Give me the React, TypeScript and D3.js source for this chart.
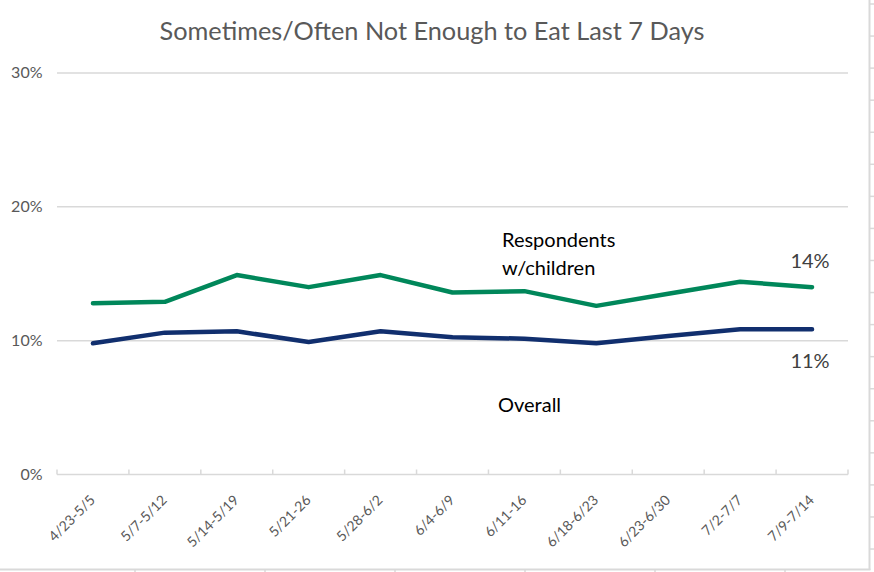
import React from "react";
import * as d3 from "d3";

const title = "Sometimes/Often Not Enough to Eat Last 7 Days";
const categories = ["4/23-5/5", "5/7-5/12", "5/14-5/19", "5/21-26", "5/28-6/2", "6/4-6/9", "6/11-16", "6/18-6/23", "6/23-6/30", "7/2-7/7", "7/9-7/14"];
const childrenValues = [12.8, 12.9, 14.9, 14.0, 14.9, 13.6, 13.7, 12.6, 13.5, 14.4, 14.0];
const overallValues = [9.8, 10.6, 10.7, 9.9, 10.7, 10.25, 10.15, 9.8, 10.35, 10.85, 10.85];
const yTicks = [0, 10, 20, 30];
const childrenLabel = ["Respondents", "w/children"];
const overallLabel = "Overall";
const childrenEnd = "14%";
const overallEnd = "11%";

const W = 874;
const H = 572;
const FONT = "Lato, 'Open Sans', sans-serif";
const GRID = "#d9d9d9";

export default function App() {
  const x = d3.scaleBand<string>().domain(categories).range([57, 848]).padding(0);
  const y = d3.scaleLinear().domain([0, 30]).range([474.5, 73]);
  const cx = (c: string) => (x(c) as number) + x.bandwidth() / 2;

  const line = d3
    .line<number>()
    .x((_, i) => cx(categories[i]))
    .y((d) => y(d));

  const bounds = [...categories.map((c) => x(c) as number), 848];
  const rowTicks = d3.range(0, 18).map((k) => 4 + k * 32.06);
  const colTicks = [135, 265, 395, 525, 655, 785];

  return (
    <svg width={W} height={H} style={{ position: "absolute", left: 0, top: 0, background: "#fff" }} fontFamily={FONT}>
      <rect x={0} y={0} width={W} height={H} fill="#fff" />
      <line x1={869.5} x2={869.5} y1={0} y2={570} stroke={GRID} strokeWidth={2} />
      <line x1={0} x2={870.5} y1={569.5} y2={569.5} stroke={GRID} strokeWidth={2} />
      {rowTicks.map((t, i) => (
        <line key={"r" + i} x1={870} x2={874} y1={t} y2={t} stroke={GRID} strokeWidth={1.5} />
      ))}
      {colTicks.map((t, i) => (
        <line key={"c" + i} x1={t} x2={t} y1={570} y2={572} stroke={GRID} strokeWidth={1.5} />
      ))}

      <text x={432} y={40} textAnchor="middle" fontSize={25.3} fill="#595959">
        {title}
      </text>

      {yTicks.map((t) => (
        <g key={t}>
          <line x1={57} x2={848} y1={y(t)} y2={y(t)} stroke={GRID} strokeWidth={1.5} />
          <text x={42.5} y={y(t) + 1} textAnchor="end" dominantBaseline="middle" fontSize={16} fill="#595959">
            {t + "%"}
          </text>
        </g>
      ))}
      {bounds.map((b, i) => (
        <line key={"b" + i} x1={b} x2={b} y1={y(0) - 5} y2={y(0)} stroke={GRID} strokeWidth={1.5} />
      ))}

      {categories.map((c) => (
        <text
          key={c}
          transform={`translate(${cx(c) + 3},${501}) rotate(-45)`}
          textAnchor="end"
          fontSize={14}
          fill="#595959"
        >
          {c}
        </text>
      ))}

      <path d={line(childrenValues) as string} fill="none" stroke="#00875A" strokeWidth={4.5} strokeLinejoin="round" strokeLinecap="round" />
      <path d={line(overallValues) as string} fill="none" stroke="#112F6E" strokeWidth={4.5} strokeLinejoin="round" strokeLinecap="round" />

      <text x={502} y={247} fontSize={20} fill="#000">
        {childrenLabel[0]}
      </text>
      <text x={502} y={275} fontSize={20} fill="#000">
        {childrenLabel[1]}
      </text>
      <text x={498} y={412} fontSize={20} fill="#000">
        {overallLabel}
      </text>
      <text x={810} y={268} textAnchor="middle" fontSize={20} fill="#404040">
        {childrenEnd}
      </text>
      <text x={810} y={368} textAnchor="middle" fontSize={20} fill="#404040">
        {overallEnd}
      </text>
    </svg>
  );
}
